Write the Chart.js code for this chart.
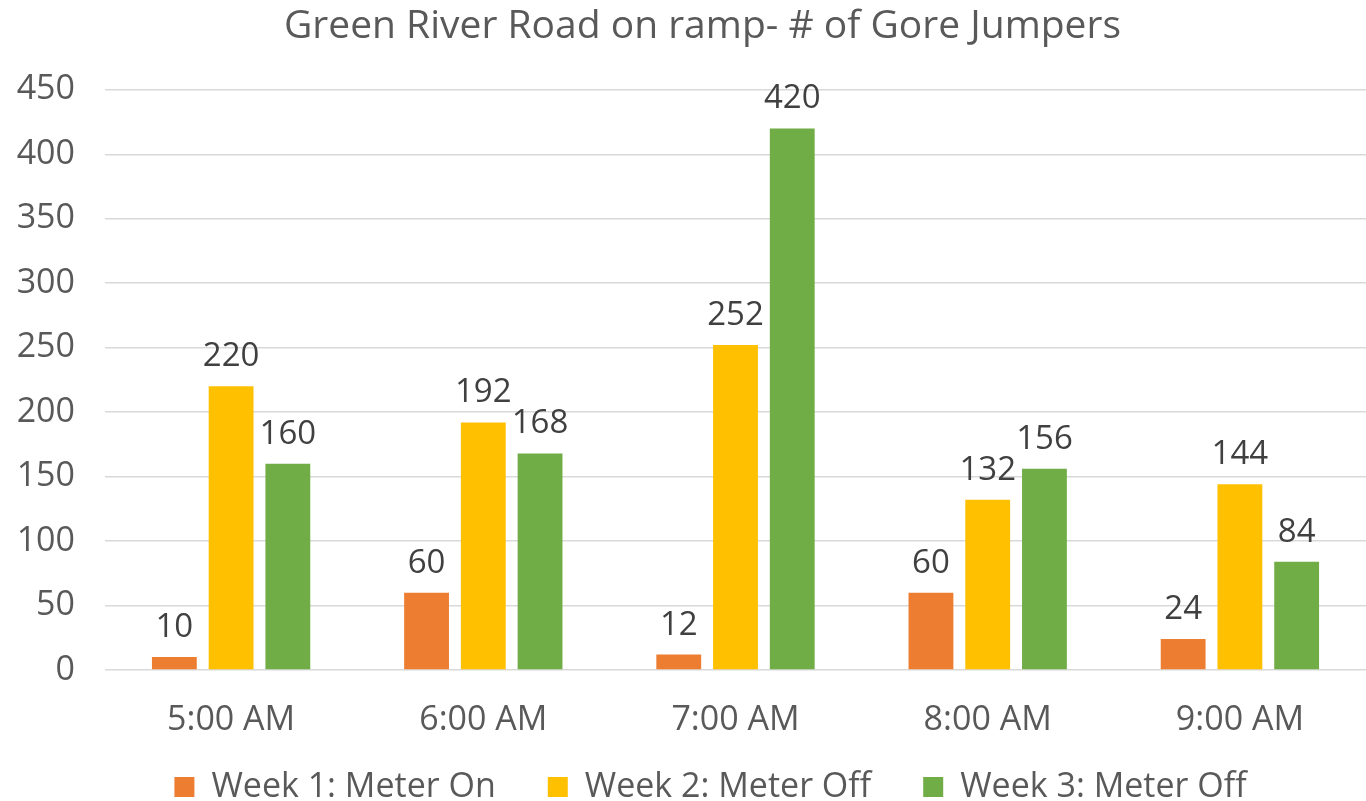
<!DOCTYPE html>
<html>
<head>
<meta charset="utf-8">
<script src="https://cdn.jsdelivr.net/npm/chart.js@4"></script>
<style>
  html, body { margin: 0; padding: 0; background: #fff; }
  #wrap { width: 1366px; height: 801px; }
</style>
</head>
<body>
<div id="wrap"><canvas id="chart"></canvas></div>
<script>
/* Green River Road on ramp — gore jumpers */

const categories = ['5:00 AM', '6:00 AM', '7:00 AM', '8:00 AM', '9:00 AM'];
const week1 = [10, 60, 12, 60, 24];
const week2 = [220, 192, 252, 132, 144];
const week3 = [160, 168, 420, 156, 84];
const seriesNames = ['Week 1: Meter On', 'Week 2: Meter Off', 'Week 3: Meter Off'];

const C = {
    orange: '#ED7D31',
    yellow: '#FFC000',
    green:  '#70AD47',
    text:   '#595959',
    label:  '#404040',
    grid:   '#D9D9D9',
};

const FONT = "'Open Sans', sans-serif";

// draw value on top of each bar
const valueLabels = {
    id: 'valueLabels',
    afterDatasetsDraw(chart) {
        const ctx = chart.ctx;
        ctx.save();
        ctx.font = `33px ${FONT}`;
        ctx.fillStyle = C.label;
        ctx.textAlign = 'center';
        ctx.textBaseline = 'alphabetic';
        chart.data.datasets.forEach((ds, i) => {
            chart.getDatasetMeta(i).data.forEach((bar, j) => {
                ctx.fillText(ds.data[j], bar.x, bar.y - 20);
            });
        });
        ctx.restore();
    }
};

// nudge title / legend after layout (legend sits closer to the axis labels)
const nudge = {
    id: 'nudge',
    afterLayout(chart) {
        const lg = chart.legend, tt = chart.titleBlock;
        lg.top -= 24; lg.height += 24;
        lg.left += 20; lg.right += 20;
        tt.left += 12; tt.right += 12;
    }
};

const bar = (label, data, color) => ({
    label, data,
    backgroundColor: color,
    borderWidth: 0,
    categoryPercentage: 0.675,
    barPercentage: 0.79,
});

new Chart(document.getElementById('chart'), {
    type: 'bar',
    data: {
        labels: categories,
        datasets: [
            bar(seriesNames[0], week1, C.orange),
            bar(seriesNames[1], week2, C.yellow),
            bar(seriesNames[2], week3, C.green),
        ]
    },
    plugins: [valueLabels, nudge],
    options: {
        responsive: true,
        maintainAspectRatio: false,
        animation: false,
        layout: { padding: { left: 15, right: 0, top: 0, bottom: 0 } },
        plugins: {
            title: {
                display: true,
                text: 'Green River Road on ramp- # of Gore Jumpers',
                color: C.text,
                font: { family: FONT, size: 39, weight: 'normal' },
                padding: { top: 3, bottom: 40 },
            },
            legend: {
                display: true,
                position: 'bottom',
                maxHeight: 59,
                labels: {
                    color: C.text,
                    font: { family: FONT, size: 34 },
                    boxWidth: 20,
                    boxHeight: 20,
                    padding: 52,
                },
            },
            tooltip: { enabled: false },
        },
        scales: {
            x: {
                grid: { display: false },
                border: { display: false },
                ticks: { color: C.text, font: { family: FONT, size: 34 }, padding: 22 },
                afterFit(scale) { scale.height = 72; },
            },
            y: {
                min: 0, max: 450,
                ticks: { stepSize: 50, color: C.text, font: { family: FONT, size: 34 }, padding: 30 },
                grid: { color: C.grid, lineWidth: 1.5, drawTicks: false },
                border: { display: false },
                afterFit(scale) { scale.width = 90; },
            }
        }
    }
});
</script>
</body>
</html>
